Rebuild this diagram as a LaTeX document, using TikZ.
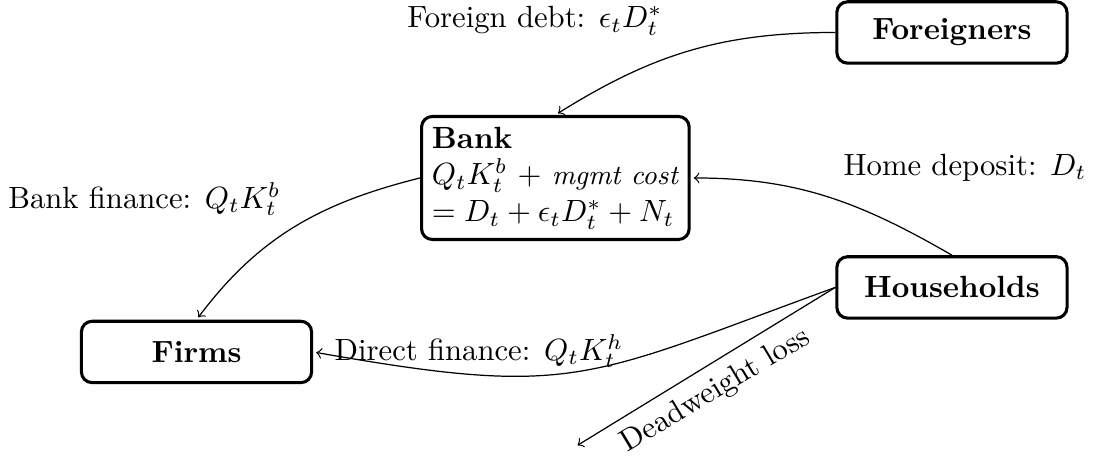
\documentclass[tikz,border=0pt]{standalone}
\usepackage{amsmath,amsfonts,amssymb}
\usepackage{tikz}
\usetikzlibrary{arrows}

\begin{document}
\begin{tikzpicture}[shorten >=1pt]
\tikzset{sector/.style={draw,line width=1pt,rounded corners=3.5pt,font=\bfseries,minimum width=75pt,minimum height=20pt}}
\useasboundingbox (0,0) rectangle (12.515,-5.278);
\node[sector] (F) at (10.90,-0.372) {Foreigners};
\node[sector,align=left,font=\normalfont] (B) at (6.359,-2.038) {\textbf{Bank}\\ $Q_tK_t^b$ + {\small\textit{mgmt cost}}\\ $= D_t + \epsilon_t D_t^* + N_t$};
\node[sector] (H) at (10.90,-3.291) {Households};
\node[sector] (K) at (2.250,-4.030) {Firms};
\coordinate (L) at (6.583,-5.117);
\node (fd) at (6.125,-0.24) {Foreign debt: $\epsilon_t D_t^*$};
\node (hd) at (11.05,-1.92) {Home deposit: $D_t$};
\node (bf) at (1.654,-2.28) {Bank finance: $Q_tK_t^b$};
\node (df) at (5.484,-4.018) {Direct finance: $Q_tK_t^h$};
\node[rotate=31] (dl) at (8.197,-4.476) {Deadweight loss};
\path[->] (F.west) edge[out=180,in=32] (B.north);
\path[->] (H.north) edge[out=150,in=0] (B.east);
\path[->] (B.west) edge[out=194,in=53] (K.north);
\path[->] (H.west) edge[out=200,in=-10,looseness=1.3] (K.east);
\path[->] (H.west) edge (L);
\end{tikzpicture}
\end{document}
